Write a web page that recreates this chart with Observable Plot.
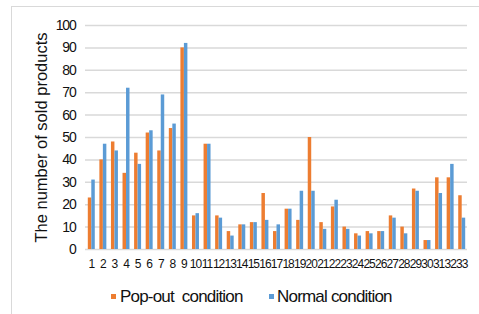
<!DOCTYPE html>
<html>
<head>
<meta charset="utf-8">
<script src="https://cdn.jsdelivr.net/npm/d3@7"></script>
<script src="https://cdn.jsdelivr.net/npm/@observablehq/plot@0.6"></script>
<style>
  html, body { margin: 0; padding: 0; background: #fff; }
  #wrap { position: relative; width: 479px; height: 314px; overflow: hidden; font-family: "Liberation Sans", sans-serif; }
  #frame { position: absolute; left: 11px; top: 6px; width: 480px; height: 320px; border-left: 1px solid #d9d9d9; border-top: 1px solid #d9d9d9; }
  #chart { position: absolute; left: 0; top: 0; }
  #chart svg g[aria-label="x-axis tick label"] text { letter-spacing: -1px; }
  #chart svg g[aria-label="y-axis tick label"] text { letter-spacing: -1.2px; }
  .leg { position: absolute; top: 285px; font-size: 17px; letter-spacing: -0.8px; color: #111; white-space: pre; line-height: 24px; }
  .sw { position: absolute; width: 5px; height: 5px; top: 294px; }
</style>
</head>
<body>
<div id="wrap">
  <div id="frame"></div>
  <div id="chart"></div>
</div>
<script>
const categories = ["1","2","3","4","5","6","7","8","9","10","11","12","13","14","15","16","17","18","19","20","21","22","23","24","25","26","27","28","29","30","31","32","33"];
const popout = [23,40,48,34,43,52,44,54,90,15,47,15,8,11,12,25,8,18,13,50,12,19,10,7,8,8,15,10,27,4,32,32,24];
const normal = [31,47,44,72,38,53,69,56,92,16,47,14,6,11,12,13,11,18,26,26,9,22,9,6,7,8,14,7,26,4,25,38,14];
const yTicks = [0,10,20,30,40,50,60,70,80,90,100];
const seriesNames = ["Pop-out  condition", "Normal condition"];
const seriesColors = ["#ED7D31", "#5B9BD5"];
const yTitle = "The number of sold products";

const popData = categories.map((c, i) => ({cat: c, value: popout[i]}));
const normData = categories.map((c, i) => ({cat: c, value: normal[i]}));

const chart = Plot.plot({
  width: 479,
  height: 275,
  marginLeft: 85,
  marginRight: 12,
  marginTop: 25,
  marginBottom: 26,
  style: {fontFamily: '"Liberation Sans", sans-serif', color: "#111", background: "transparent"},
  x: {type: "band", domain: categories, padding: 0, round: false},
  y: {domain: [0, 100]},
  marks: [
    Plot.ruleY(yTicks, {stroke: "#d9d9d9", strokeWidth: 1.5}),
    Plot.barY(popData, {x: "cat", y: "value", fill: seriesColors[0], insetLeft: 2.8, insetRight: 5.3}),
    Plot.barY(normData, {x: "cat", y: "value", fill: seriesColors[1], insetLeft: 6.3, insetRight: 1.8}),
    Plot.axisY({ticks: yTicks, tickSize: 0, tickPadding: 10, fontSize: 14, label: null}),
    Plot.axisX({tickSize: 0, tickPadding: 10, fontSize: 12, label: null}),
    Plot.text([yTitle], {frameAnchor: "left", dx: -44, rotate: -90, textAnchor: "middle", lineAnchor: "middle", fontSize: 16.5, fill: "#111"})
  ]
});
document.getElementById("chart").appendChild(chart);

const wrap = document.getElementById("wrap");
const legPos = [{sw: 111, tx: 120}, {sw: 269, tx: 277}];
seriesNames.forEach((name, i) => {
  const sw = document.createElement("div");
  sw.className = "sw";
  sw.style.left = legPos[i].sw + "px";
  sw.style.background = seriesColors[i];
  wrap.appendChild(sw);
  const t = document.createElement("div");
  t.className = "leg";
  t.style.left = legPos[i].tx + "px";
  t.textContent = name;
  wrap.appendChild(t);
});
</script>
</body>
</html>
